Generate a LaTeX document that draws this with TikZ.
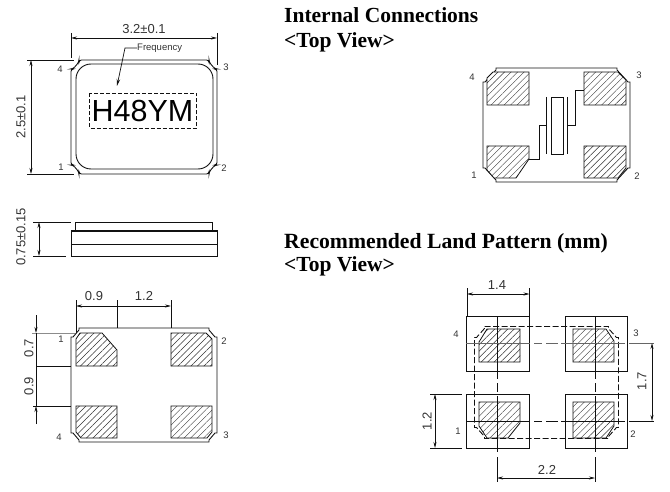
\documentclass[tikz,border=0pt]{standalone}
\usepackage{fontspec}
\setmainfont{Liberation Sans}
\newfontfamily\titlefont{Liberation Serif}
\usetikzlibrary{arrows.meta, patterns.meta}
\definecolor{inkline}{HTML}{111111}
\definecolor{inktext}{HTML}{333333}

% package outline with cut corners: left, top, right, bottom, notch
\newcommand{\pkgoutline}[5]{
  ({#1+#5},#2) -- ({#3-#5},#2) -- ({#3-#5},{#2+2}) -- ({#3-2},{#2+#5+1}) -- (#3,{#2+#5+1})
  -- (#3,{#4-#5-1}) -- ({#3-2},{#4-#5-1}) -- ({#3-#5},{#4-2}) -- ({#3-#5},#4)
  -- ({#1+#5},#4) -- ({#1+#5},{#4-2}) -- ({#1+2},{#4-#5-1}) -- (#1,{#4-#5-1})
  -- (#1,{#2+#5+1}) -- ({#1+2},{#2+#5+1}) -- ({#1+#5},{#2+2}) -- cycle
}

\begin{document}
\begin{tikzpicture}[
    x=1pt, y=-1pt,
    outline/.style={draw=inkline, line width=0.9pt},
    hatchpad/.style={draw=inkline, line width=0.8pt, preaction={fill=white}, pattern={Lines[angle=45, distance=4.6pt, line width=0.45pt]}, pattern color=black!80},
    dimline/.style={draw=inkline, line width=0.7pt, {Stealth[length=6pt, width=3pt]}-{Stealth[length=6pt, width=3pt]}},
    extline/.style={draw=inkline, line width=0.7pt},
    dimtext/.style={font=\fontsize{13}{13}\selectfont, color=inktext, inner sep=0pt},
    pintext/.style={font=\fontsize{9.5}{10}\selectfont, color=inktext, inner sep=0pt},
    headtext/.style={font=\titlefont\bfseries\fontsize{21.5}{22}\selectfont, anchor=base west, inner sep=0pt},
]
\useasboundingbox (0,0) rectangle (670,492);

% headings
\node[headtext] (headconn) at (284,23) {Internal Connections};
\node[headtext] (viewconn) at (284,48) {<Top View>};
\node[headtext, font=\titlefont\bfseries\fontsize{21.7}{22}\selectfont] (headland) at (284,248) {Recommended Land Pattern (mm)};
\node[headtext] (viewland) at (284,271) {<Top View>};

% top view of the package
\draw[outline, rounded corners=2.5pt] \pkgoutline{71}{60}{217}{174}{8};
\draw[outline, rounded corners=15pt] (76,64) rectangle (213,169);
\draw[outline, dash pattern=on 4pt off 2pt] (89.5,93.5) rectangle (196.5,128.5);
\node[inner sep=0pt, font=\fontsize{30.5}{31}\selectfont, color=black] (marking) at (142.5,111) {H48YM};
\node[inner sep=0pt, anchor=west, font=\fontsize{9.5}{10}\selectfont, color=inktext] (freq) at (137,48) {Frequency};
\draw[extline, -{Stealth[length=7pt, width=3.5pt]}] (freq.west) -- (125,48) -- (117,86);
\draw[extline] (71,33) -- (71,58);
\draw[extline] (217,33) -- (217,65);
\draw[dimline] (71,38) -- (217,38);
\node[dimtext] (dimw) at (144,29) {3.2±0.1};
\draw[extline] (27,60) -- (74,60);
\draw[extline] (27,174) -- (74,174);
\draw[dimline] (31,60) -- (31,174);
\node[dimtext, rotate=90] (dimh) at (21,117) {2.5±0.1};
\node[pintext] (ta) at (60,69) {4};
\node[pintext] (tb) at (226,67) {3};
\node[pintext] (tc) at (61,167) {1};
\node[pintext] (td) at (224,168) {2};

% side view
\draw[outline] (75,230) -- (75,222) -- (212,222) -- (212,230);
\draw[outline, line width=1.2pt] (71,231) -- (217.5,231);
\draw[outline] (71,231) rectangle (217.5,256);
\draw[outline] (71,244) -- (217.5,244);
\draw[extline] (33,222) -- (71,222);
\draw[extline] (33,256) -- (66,256);
\draw[dimline] (39,222) -- (39,256);
\node[dimtext, rotate=90] (dimt) at (21,237) {0.75±0.15};

% bottom view
\draw[outline] \pkgoutline{71}{328}{217}{442}{8};
\draw[hatchpad] (80,333) -- (102,333) -- (117,350) -- (117,366) -- (76,366) -- (76,339) -- cycle;
\draw[hatchpad] (171,333) -- (206,333) -- (212,339) -- (212,366) -- (171,366) -- cycle;
\draw[hatchpad] (76,406) -- (117,406) -- (117,438) -- (81,438) -- (76,432) -- cycle;
\draw[hatchpad] (171,406) -- (212,406) -- (212,432) -- (207,438) -- (171,438) -- cycle;
\draw[extline] (76,300) -- (76,333);
\draw[extline] (117,300) -- (117,328);
\draw[extline] (171,300) -- (171,328);
\draw[dimline, {Stealth[length=6pt, width=3pt]}-] (76,306) -- (117,306);
\draw[dimline, -{Stealth[length=6pt, width=3pt]}] (117,306) -- (171,306);
\node[dimtext] (dimga) at (94,296) {0.9};
\node[dimtext] (dimgb) at (144,296) {1.2};
\draw[extline, black!45] (32,333) -- (75,333);
\draw[extline] (36,366) -- (71,366);
\draw[extline] (33,406) -- (71,406);
\draw[dimline, -{Stealth[length=6pt, width=3pt]}] (36,315) -- (36,333);
\draw[extline] (36,333) -- (36,406);
\draw[dimline, -{Stealth[length=6pt, width=3pt]}] (36,424) -- (36,406);
\node[dimtext, rotate=90] (dimpa) at (29,348) {0.7};
\node[dimtext, rotate=90] (dimpb) at (29,386) {0.9};
\node[pintext] (ba) at (61,339) {1};
\node[pintext] (bb) at (224,341) {2};
\node[pintext] (bc) at (59,437) {4};
\node[pintext] (bd) at (226,435) {3};

% internal connections
\draw[outline] \pkgoutline{483}{68}{630}{182}{13};
\draw[hatchpad] (493,72) -- (529,72) -- (529,105) -- (487,105) -- (487,78) -- cycle;
\draw[hatchpad] (584,72) -- (618,72) -- (626,80) -- (626,105) -- (584,105) -- cycle;
\draw[hatchpad] (487,146) -- (529,146) -- (529,159) -- (516,178) -- (494,178) -- (487,170) -- cycle;
\draw[hatchpad] (584,146) -- (626,146) -- (626,168) -- (618,178) -- (584,178) -- cycle;
\draw[outline] (551,97) rectangle (563,154);
\draw[outline] (546,97) -- (546,154);
\draw[outline] (567,97) -- (567,154);
\draw[extline] (546,125) -- (539.5,125) -- (539.5,159) -- (529,159);
\draw[extline] (567,125) -- (575,125) -- (575,90) -- (584,90);
\node[pintext] (ca) at (472,77) {4};
\node[pintext] (cb) at (639,75) {3};
\node[pintext] (cc) at (474,175) {1};
\node[pintext] (cd) at (637,176) {2};

% land pattern
\draw[outline] (466,316) rectangle (529.5,371);
\draw[outline] (565,316) rectangle (627,371);
\draw[outline] (466,394) rectangle (529.5,448);
\draw[outline] (565,394) rectangle (627,448);
\draw[hatchpad] (487,329) -- (520,329) -- (520,362) -- (479,362) -- (479,342) -- cycle;
\draw[hatchpad] (573,329) -- (606,329) -- (614,341) -- (614,362) -- (573,362) -- cycle;
\draw[hatchpad] (479,402) -- (520,402) -- (520,423) -- (508,438) -- (487,438) -- (479,426) -- cycle;
\draw[hatchpad] (573,402) -- (614,402) -- (614,426) -- (606,438) -- (573,438) -- cycle;
\draw[outline, dash pattern=on 6pt off 2.5pt] \pkgoutline{474.5}{326.5}{618.5}{438.5}{10};
\draw[extline, dash pattern=on 62pt off 4pt on 9pt off 4pt on 56pt off 5pt on 25pt off 9pt] (497,317) -- (497,482);
\draw[extline, dash pattern=on 62pt off 4pt on 9pt off 4pt on 56pt off 5pt on 25pt off 9pt] (595,317) -- (595,482);
\draw[extline, black!60, dash pattern=on 64pt off 4pt on 8pt off 4pt on 12pt off 3pt on 64pt off 4pt on 25pt off 9pt] (466,343) -- (657,343);
\draw[extline, dash pattern=on 64pt off 4pt on 8pt off 4pt on 12pt off 3pt on 64pt off 4pt on 25pt off 9pt] (466,421) -- (657,421);
\draw[extline] (467,288) -- (467,316);
\draw[extline] (529.5,288) -- (529.5,316);
\draw[dimline] (467,294) -- (529.5,294);
\node[dimtext] (dimla) at (497,285) {1.4};
\draw[extline] (430,394) -- (462,394);
\draw[extline] (430,448) -- (462,448);
\draw[dimline] (435,394) -- (435,448);
\node[dimtext, rotate=90] (dimlb) at (427,421) {1.2};
\draw[dimline] (652,343) -- (652,421);
\node[dimtext, rotate=90] (dimlc) at (642,381) {1.7};
\draw[dimline] (497,478) -- (595,478);
\node[dimtext] (dimld) at (547,470) {2.2};
\node[pintext] (da) at (456,334) {4};
\node[pintext] (db) at (636,333) {3};
\node[pintext] (dc) at (458,431) {1};
\node[pintext] (dd) at (633,434) {2};
\end{tikzpicture}
\end{document}
